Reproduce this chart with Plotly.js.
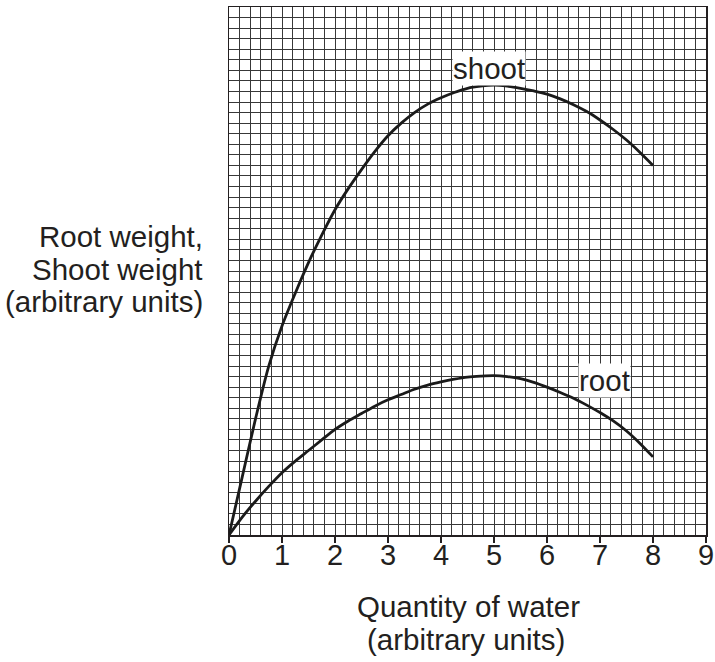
<!DOCTYPE html>
<html>
<head>
<meta charset="utf-8">
<script src="https://cdn.plot.ly/plotly-3.0.1.min.js"></script>
<style>html,body{margin:0;padding:0;background:#fff}#chart{width:715px;height:662px}</style>
</head>
<body>
<div id="chart"></div>
<script>
var water = [0, 0.25, 0.5, 0.75, 1, 1.25, 1.5, 1.75, 2, 2.25, 2.5, 2.75, 3, 3.25, 3.5, 3.75, 4, 4.25, 4.5, 4.75, 5, 5.25, 5.5, 5.75, 6, 6.25, 6.5, 6.75, 7, 7.25, 7.5, 7.75, 8];
var shootWeight = [0, 5.5, 11.0, 16.0, 19.8, 22.9, 25.8, 28.4, 30.8, 32.8, 34.6, 36.3, 37.8, 39.0, 40.0, 40.8, 41.4, 41.9, 42.3, 42.5, 42.6, 42.5, 42.3, 42.05, 41.75, 41.3, 40.75, 40.1, 39.3, 38.4, 37.4, 36.25, 35.0];
var rootWeight = [0, 1.7, 3.2, 4.6, 5.9, 7.0, 8.0, 9.0, 10.0, 10.8, 11.5, 12.2, 12.8, 13.3, 13.8, 14.2, 14.5, 14.75, 14.95, 15.05, 15.1, 15.0, 14.8, 14.45, 14.0, 13.5, 12.95, 12.3, 11.6, 10.8, 9.85, 8.7, 7.4];
var xTickVals = [0, 1, 2, 3, 4, 5, 6, 7, 8, 9];
var xTickText = ['0', '1', '2', '3', '4', '5', '6', '7', '8', '9'];

var FONT = 'Liberation Sans, Arial, sans-serif';
var L = 229, R = 706, T = 7, B = 535;
function px(x) { return (x - L) / (R - L); }
function py(y) { return (B - y) / (B - T); }

var lineStyle = {color: '#1a1a1a', width: 2.8, shape: 'spline', smoothing: 0.8};
var traces = [
  {x: water, y: shootWeight, mode: 'lines', line: lineStyle, hoverinfo: 'skip', name: 'shoot'},
  {x: water, y: rootWeight, mode: 'lines', line: lineStyle, hoverinfo: 'skip', name: 'root'}
];

var textFont = {family: FONT, size: 29.5, color: '#231f20'};
var annotations = [
  {x: 4.9, y: 44.2, xref: 'x', yref: 'y', text: 'shoot', showarrow: false, bgcolor: '#fff', borderpad: 0, font: textFont},
  {x: 7.08, y: 14.6, xref: 'x', yref: 'y', text: 'root', showarrow: false, bgcolor: '#fff', borderpad: 0, font: textFont},
  {x: px(205), y: py(237), xref: 'paper', yref: 'paper', xanchor: 'right', yanchor: 'middle', text: 'Root weight,', showarrow: false, font: textFont},
  {x: px(205), y: py(269), xref: 'paper', yref: 'paper', xanchor: 'right', yanchor: 'middle', text: 'Shoot weight', showarrow: false, font: textFont},
  {x: px(205), y: py(301), xref: 'paper', yref: 'paper', xanchor: 'right', yanchor: 'middle', text: '(arbitrary units)', showarrow: false, font: textFont},
  {x: px(468), y: py(606), xref: 'paper', yref: 'paper', xanchor: 'center', yanchor: 'middle', text: 'Quantity of water', showarrow: false, font: textFont},
  {x: px(466), y: py(639), xref: 'paper', yref: 'paper', xanchor: 'center', yanchor: 'middle', text: '(arbitrary units)', showarrow: false, font: textFont}
];

var gridColor = '#383838';
var layout = {
  width: 715, height: 662,
  margin: {l: L, r: 715 - R, t: T, b: 662 - B, pad: 0},
  paper_bgcolor: '#fff', plot_bgcolor: '#fff',
  showlegend: false,
  xaxis: {
    range: [0, 9], tickvals: xTickVals, ticktext: xTickText,
    ticks: 'outside', ticklen: 6, tickwidth: 1.2, tickcolor: '#231f20',
    ticklabelstandoff: -12,
    tickfont: {family: FONT, size: 29, color: '#231f20'},
    showgrid: true, gridcolor: gridColor, gridwidth: 1,
    minor: {dtick: 0.2, showgrid: true, gridcolor: gridColor, gridwidth: 1},
    showline: true, linecolor: '#231f20', linewidth: 1.5, mirror: true,
    zeroline: false, fixedrange: true
  },
  yaxis: {
    range: [0, 50], dtick: 1, showticklabels: false, ticks: '',
    showgrid: true, gridcolor: gridColor, gridwidth: 1,
    showline: true, linecolor: '#231f20', linewidth: 1.5, mirror: true,
    zeroline: false, fixedrange: true
  },
  annotations: annotations
};

Plotly.newPlot('chart', traces, layout, {staticPlot: true, displayModeBar: false});
</script>
</body>
</html>
